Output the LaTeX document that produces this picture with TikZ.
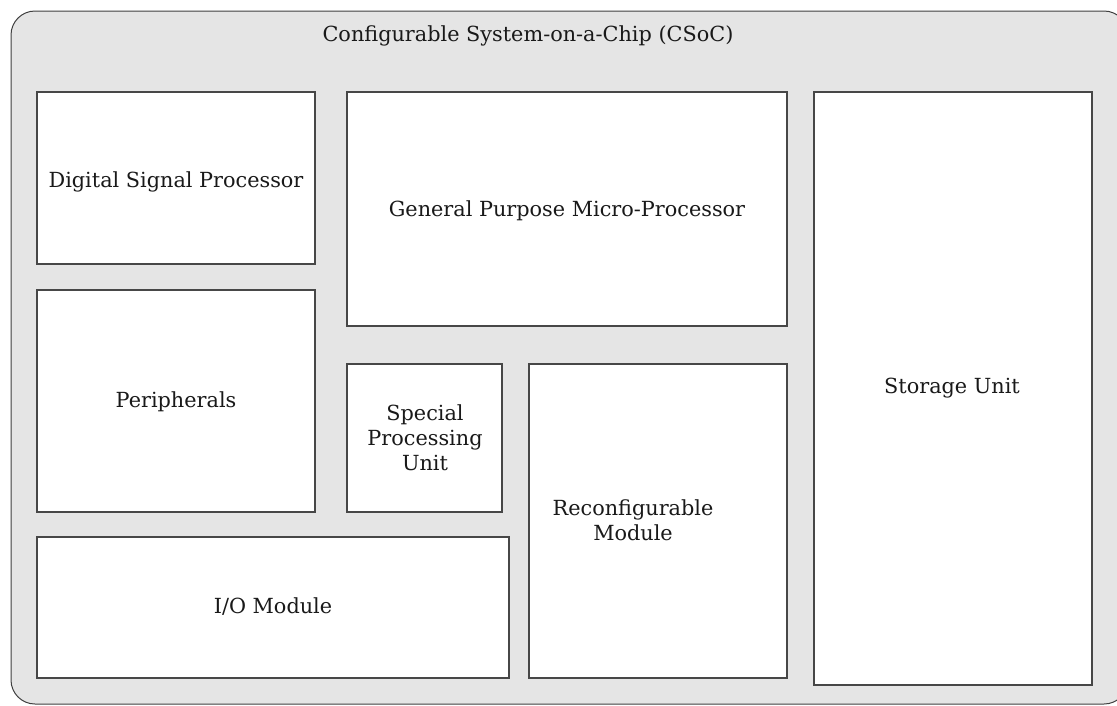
\documentclass[tikz,border=0pt]{standalone}
\usepackage{fontspec}
\setmainfont{DejaVu Serif}
\begin{document}
\begin{tikzpicture}[x=1pt,y=-1pt,
  chip/.style={draw=black!75, fill=black!10, line width=1pt, rounded corners=24pt},
  block/.style={draw=black!72, fill=white, line width=1.2pt},
  lbl/.style={font=\fontsize{20.8}{25}\selectfont, align=center, text=black!90}]
\useasboundingbox (0,0) rectangle (1117,705);
\begin{scope}
  \clip (0,0) rectangle (1117,705);
  \draw[chip] (11,11) rectangle (1128,704);
\end{scope}
\node[lbl] (title) at (528,36) {Configurable System-on-a-Chip (CSoC)};

% functional blocks
\draw[block] (37,92) rectangle (315,264);
\node[lbl] (dsp) at (176,182) {Digital Signal Processor};

\draw[block] (347,92) rectangle (787,326);
\node[lbl] (gpmp) at (567,211) {General Purpose Micro-Processor};

\draw[block] (814,92) rectangle (1092,685);
\node[lbl] (store) at (952,388) {Storage Unit};

\draw[block] (37,290) rectangle (315,512);
\node[lbl] (periph) at (176,402) {Peripherals};

\draw[block] (347,364) rectangle (502,512);
\node[lbl] (spu) at (425,438) {Special\\Processing\\Unit};

\draw[block] (529,364) rectangle (787,678);
\node[lbl] (reconf) at (633,520) {Reconfigurable\\Module};

\draw[block] (37,537) rectangle (509,678);
\node[lbl] (io) at (273,607) {I/O Module};
\end{tikzpicture}
\end{document}
